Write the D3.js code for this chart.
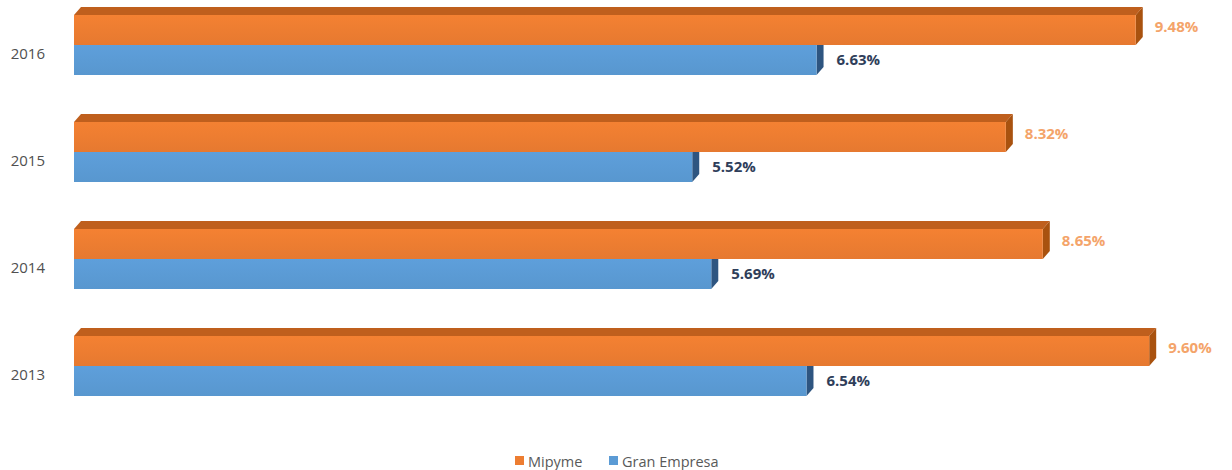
<!DOCTYPE html>
<html>
<head>
<meta charset="utf-8">
<script src="https://cdn.jsdelivr.net/npm/d3@7/dist/d3.min.js"></script>
<style>
  html, body { margin: 0; padding: 0; background: #fff; }
  svg { display: block; }
</style>
</head>
<body>
<svg id="chart" width="1232" height="470"></svg>
<script>
// Años y series (porcentajes)
const years = ["2016", "2015", "2014", "2013"];
const mipyme = [9.48, 8.32, 8.65, 9.60];
const granEmpresa = [6.63, 5.52, 5.69, 6.54];
const seriesNames = ["Mipyme", "Gran Empresa"];

const svg = d3.select("#chart");

const x = d3.scaleLinear().domain([0, 10]).range([74, 1194]);
const y = d3.scalePoint().domain(years).range([45, 366]);

const barH = 30;      // front face height of each bar
const dx = 7, dy = 8; // 3D depth offset

const colors = {
  Mipyme: { front: "#ED7D31", top: "#BF5F1D", side: "#A9520F", label: "#F4A46A" },
  "Gran Empresa": { front: "#5B9BD5", top: "#3E6F9E", side: "#2E5580", label: "#2F3E5A" }
};

// subtle shading on front faces
const defs = svg.append("defs");
function frontGrad(id, base) {
  const g = defs.append("linearGradient").attr("id", id)
    .attr("x1", 0).attr("x2", 0).attr("y1", 0).attr("y2", 1);
  const c = d3.color(base);
  g.append("stop").attr("offset", "0%").attr("stop-color", c.brighter(0.08));
  g.append("stop").attr("offset", "50%").attr("stop-color", c);
  g.append("stop").attr("offset", "100%").attr("stop-color", c.darker(0.08));
}
frontGrad("gOrange", colors.Mipyme.front);
frontGrad("gBlue", colors["Gran Empresa"].front);

function drawBar(g, v, top, col, fill) {
  const x0 = x(0), x1 = x(v), y0 = top, y1 = top + barH;
  // top face
  g.append("path")
    .attr("d", `M${x0},${y0} L${x0 + dx},${y0 - dy} L${x1 + dx},${y0 - dy} L${x1},${y0} Z`)
    .attr("fill", col.top);
  // side face
  g.append("path")
    .attr("d", `M${x1},${y0} L${x1 + dx},${y0 - dy} L${x1 + dx},${y1 - dy} L${x1},${y1} Z`)
    .attr("fill", col.side);
  // front face
  g.append("rect")
    .attr("x", x0).attr("y", y0)
    .attr("width", x1 - x0).attr("height", barH)
    .attr("fill", fill);
}

const groups = svg.append("g").selectAll("g")
  .data(years.map((yr, i) => ({ yr, m: mipyme[i], g: granEmpresa[i] })))
  .join("g");

groups.each(function (d) {
  const g = d3.select(this);
  const c = y(d.yr);
  // lower bar first so the upper bar's front covers its top face
  drawBar(g, d.g, c, colors["Gran Empresa"], "url(#gBlue)");
  drawBar(g, d.m, c - barH, colors.Mipyme, "url(#gOrange)");

  g.append("text")
    .attr("x", x(d.m) + 19).attr("y", c - 13)
    .attr("fill", colors.Mipyme.label)
    .attr("font-family", "Open Sans, sans-serif").attr("font-size", 15)
    .attr("font-weight", "bold")
    .text(d.m.toFixed(2) + "%");

  g.append("text")
    .attr("x", x(d.g) + 20).attr("y", c + 20)
    .attr("fill", colors["Gran Empresa"].label)
    .attr("font-family", "Open Sans, sans-serif").attr("font-size", 15)
    .attr("font-weight", "bold")
    .text(d.g.toFixed(2) + "%");

  g.append("text")
    .attr("x", 45).attr("y", c + 14)
    .attr("text-anchor", "end")
    .attr("fill", "#505050")
    .attr("font-family", "Open Sans, sans-serif").attr("font-size", 15)
    .text(d.yr);
});

// Leyenda
const legend = svg.append("g");
const legendItems = [
  { name: seriesNames[0], color: colors.Mipyme.front, x: 515 },
  { name: seriesNames[1], color: colors["Gran Empresa"].front, x: 609 }
];
legendItems.forEach(it => {
  legend.append("rect").attr("x", it.x).attr("y", 456).attr("width", 9).attr("height", 9).attr("fill", it.color);
  legend.append("text").attr("x", it.x + 13).attr("y", 466.5)
    .attr("fill", "#595959")
    .attr("font-family", "Open Sans, sans-serif").attr("font-size", 14.5)
    .text(it.name);
});
</script>
</body>
</html>
